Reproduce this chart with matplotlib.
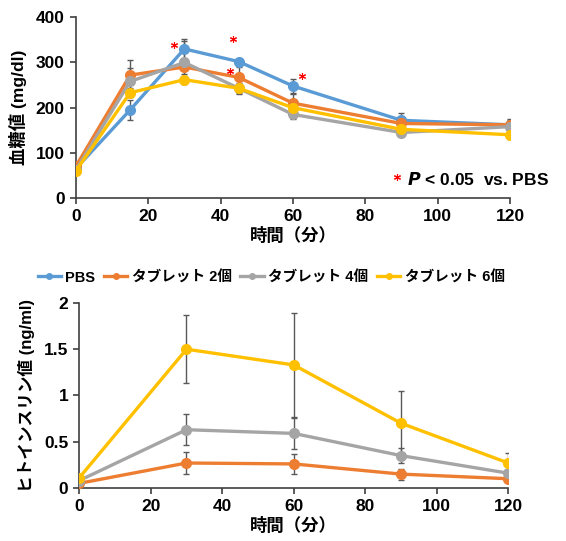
import matplotlib
matplotlib.use("Agg")
import matplotlib.pyplot as plt
from matplotlib.lines import Line2D

plt.rcParams['font.family'] = ['Liberation Sans', 'Noto Sans CJK JP']
plt.rcParams['font.weight'] = 'bold'

# ---- data ----
t_glu = [0, 15, 30, 45, 60, 90, 120]
glu_pbs = [65, 195, 330, 302, 248, 172, 162]
glu_pbs_err = [5, 22, 22, 6, 16, 16, 8]
glu_t2 = [70, 272, 290, 267, 210, 165, 162]
glu_t2_err = [5, 33, 15, 22, 20, 8, 14]
glu_t4 = [62, 258, 300, 243, 185, 145, 158]
glu_t4_err = [4, 30, 48, 12, 10, 8, 14]
glu_t6 = [60, 233, 262, 243, 200, 152, 140]
glu_t6_err = [4, 10, 8, 10, 8, 8, 10]

stars_x = [27, 43.5, 42.5, 62.5]
stars_y = [338, 352, 282, 270]

t_ins = [0, 30, 60, 90, 120]
ins_t2 = [0.05, 0.27, 0.26, 0.15, 0.10]
ins_t2_err = [0.01, 0.12, 0.11, 0.06, 0.02]
ins_t4 = [0.08, 0.63, 0.59, 0.35, 0.16]
ins_t4_err = [0.01, 0.17, 0.17, 0.08, 0.03]
ins_t6 = [0.11, 1.50, 1.33, 0.70, 0.27]
ins_t6_err = [0.02, 0.37, 0.56, 0.35, 0.11]

labels = ['PBS', 'タブレット 2個', 'タブレット 4個', 'タブレット 6個']
colors = ['#5B9BD5', '#ED7D31', '#A5A5A5', '#FFC000']
err_color = '#595959'

fig = plt.figure(figsize=(5.66, 5.41), dpi=100)
ax1 = fig.add_axes([0.134, 0.634, 0.767, 0.334])
ax2 = fig.add_axes([0.140, 0.098, 0.758, 0.342])


def style_axes(ax):
    for s in ['top', 'right']:
        ax.spines[s].set_visible(False)
    for s in ['left', 'bottom']:
        ax.spines[s].set_color('#404040')
        ax.spines[s].set_linewidth(1.2)
    ax.tick_params(axis='both', direction='out', length=4, width=1.2,
                   color='#404040', labelsize=12.5, pad=4)
    for lab in ax.get_xticklabels() + ax.get_yticklabels():
        lab.set_fontweight('bold')


def draw(ax, x, y, err, c):
    ax.errorbar(x, y, yerr=err, fmt='none', ecolor=err_color, elinewidth=1.0,
                capsize=2.5, capthick=1.0, zorder=2)
    ax.plot(x, y, '-o', color=c, lw=2.4, ms=7, zorder=3)


# top: blood glucose
for y, e, c in zip([glu_pbs, glu_t2, glu_t4, glu_t6],
                   [glu_pbs_err, glu_t2_err, glu_t4_err, glu_t6_err], colors):
    draw(ax1, t_glu, y, e, c)
ax1.plot(stars_x, stars_y, linestyle='none', marker=(6, 2, 0), color='red',
         ms=5, mew=0.8, zorder=4)
ax1.set_xlim(0, 120)
ax1.set_ylim(0, 400)
ax1.set_xticks(range(0, 121, 20))
ax1.set_yticks(range(0, 401, 100))
ax1.set_xlabel('時間（分）', fontsize=12.5, fontweight='bold', labelpad=2)
ax1.set_ylabel('血糖値 (mg/dl)', fontsize=12.5, fontweight='bold', labelpad=6)
ax1.plot([88.8], [47], linestyle='none', marker=(6, 2, 0), color='red',
         ms=5, mew=0.8, clip_on=False)
ax1.text(91.5, 42, r'$\mathbf{\mathit{P}}$' + ' < 0.05  vs. PBS', fontsize=12.5,
         fontweight='bold', va='center', clip_on=False)
style_axes(ax1)

# bottom: insulin
for y, e, c in zip([ins_t2, ins_t4, ins_t6],
                   [ins_t2_err, ins_t4_err, ins_t6_err], colors[1:]):
    draw(ax2, t_ins, y, e, c)
ax2.set_xlim(0, 120)
ax2.set_ylim(0, 2)
ax2.set_xticks(range(0, 121, 20))
ax2.set_yticks([0, 0.5, 1, 1.5, 2])
ax2.set_yticklabels(['0', '0.5', '1', '1.5', '2'])
ax2.set_xlabel('時間（分）', fontsize=12.5, fontweight='bold', labelpad=2)
ax2.set_ylabel('ヒトインスリン値 (ng/ml)', fontsize=12, fontweight='bold', labelpad=6)
style_axes(ax2)

handles = [Line2D([0], [0], color=c, lw=2.4, marker='o', ms=4) for c in colors]
fig.legend(handles, labels, loc='center', bbox_to_anchor=(0.479, 0.487), ncol=4,
           frameon=False, handlelength=1.6, handletextpad=0.3,
           columnspacing=0.6, prop={'weight': 'bold', 'size': 10.5})

fig.savefig('out.png', dpi=100)
